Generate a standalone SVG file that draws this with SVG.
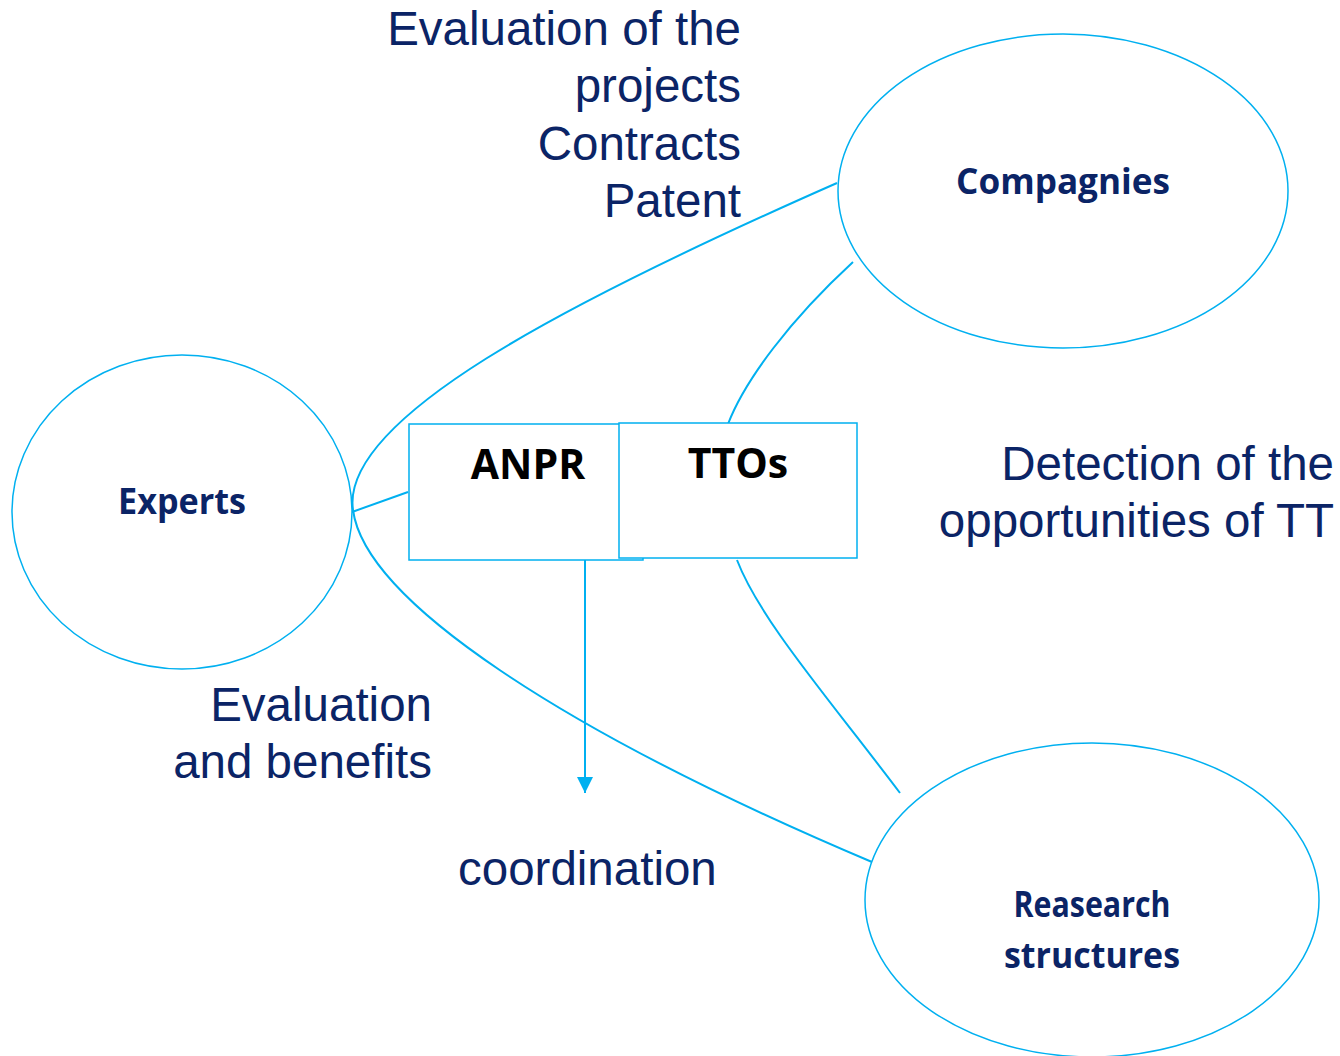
<svg xmlns="http://www.w3.org/2000/svg" width="1340" height="1056" viewBox="0 0 1340 1056">
<defs>
<style>
.node{fill:#fff;stroke:#00b0f0;stroke-width:1.5}
.conn{fill:none;stroke:#00b0f0;stroke-width:2}
.lbl{font-family:"Open Sans","Noto Sans",sans-serif;font-weight:bold;font-size:35px;fill:#0b2466;text-anchor:middle}
.blk{font-family:"Open Sans","Noto Sans",sans-serif;font-weight:bold;font-size:41px;fill:#000;text-anchor:middle}
.note{font-family:"Liberation Sans",Arial,sans-serif;font-size:47.5px;fill:#0b2466}
</style>
<marker id="arr" viewBox="0 0 10 10" refX="10" refY="5" markerWidth="16" markerHeight="16" markerUnits="userSpaceOnUse" orient="auto">
<path d="M0,0 L10,5 L0,10 z" fill="#00b0f0"/>
</marker>
</defs>
<rect width="1340" height="1056" fill="#fff"/>
<g id="connectors">
<path class="conn" d="M837,183 C560,305 340,420 353,510 C365,600 560,730 872,862"/>
<line class="conn" x1="352" y1="512" x2="408" y2="492"/>
<path class="conn" d="M853,262 C790,320 745,380 728,424"/>
<path class="conn" d="M737,560 C760,620 830,700 900,793"/>
<line class="conn" x1="585" y1="560" x2="585" y2="793" marker-end="url(#arr)"/>
</g>
<g id="experts">
<ellipse class="node" cx="182" cy="512" rx="170" ry="157"/>
<text class="lbl" x="182" y="514" textLength="128" lengthAdjust="spacingAndGlyphs">Experts</text>
</g>
<g id="compagnies">
<ellipse class="node" cx="1063" cy="191" rx="225" ry="157"/>
<text class="lbl" x="1063" y="194" textLength="214" lengthAdjust="spacingAndGlyphs">Compagnies</text>
</g>
<g id="research">
<ellipse class="node" cx="1092" cy="900" rx="227" ry="157"/>
<text class="lbl" x="1092" y="917" textLength="157" lengthAdjust="spacingAndGlyphs">Reasearch</text>
<text class="lbl" x="1092" y="968" textLength="176" lengthAdjust="spacingAndGlyphs">structures</text>
</g>
<g id="anpr">
<rect class="node" x="409" y="424" width="234" height="136"/>
<text class="blk" x="528" y="479">ANPR</text>
</g>
<g id="ttos">
<rect class="node" x="619" y="423" width="238" height="135"/>
<text class="blk" x="738" y="478">TTOs</text>
</g>
<g id="notes">
<text class="note" text-anchor="end" x="741" y="45">Evaluation of the</text>
<text class="note" text-anchor="end" x="741" y="102">projects</text>
<text class="note" text-anchor="end" x="741" y="160">Contracts</text>
<text class="note" text-anchor="end" x="741" y="217">Patent</text>
<text class="note" text-anchor="end" x="1334" y="480">Detection of the</text>
<text class="note" text-anchor="end" x="1334" y="537">opportunities of TT</text>
<text class="note" text-anchor="end" x="432" y="721">Evaluation</text>
<text class="note" text-anchor="end" x="432" y="778">and benefits</text>
<text class="note" x="458" y="885">coordination</text>
</g>
</svg>
